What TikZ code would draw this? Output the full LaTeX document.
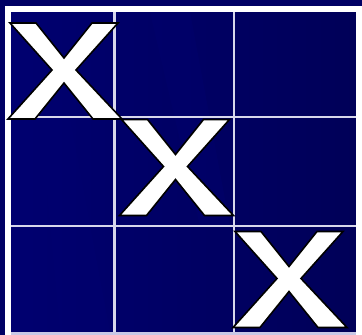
\documentclass[tikz,border=0pt]{standalone}
\begin{document}
\begin{tikzpicture}[x=1pt,y=-1pt,
  frameline/.style={draw=white,line width=6pt},
  gridline/.style={draw={rgb,255:red,215;green,215;blue,235},line width=2.5pt},
  xshape/.style={fill=white,draw=black,line width=1.6pt,line join=miter}]
\definecolor{navyA}{RGB}{0,0,112}
\definecolor{navyB}{RGB}{0,0,88}
\definecolor{navyC}{RGB}{0,0,100}
\useasboundingbox (0,0) rectangle (362,335);
\fill[navyC] (0,0) rectangle (362,335);
\shade[left color=navyA,right color=navyB] (11,12) rectangle (356,332);
\fill[navyA,opacity=0.35] (40,118) -- (70,118) -- (110,332) -- (60,332) -- cycle;
\fill[navyA,opacity=0.35] (150,12) -- (190,12) -- (230,226) -- (200,226) -- cycle;
% grid lines
\draw[gridline] (114.5,12) -- (114.5,332);
\draw[gridline] (234,12) -- (234,332);
\draw[gridline] (11,117) -- (356,117);
\draw[gridline] (11,226) -- (356,226);
% outer frame
\draw[frameline] (8,9) rectangle (359,335);
\draw[draw={rgb,255:red,200;green,200;blue,230},line width=3pt] (11,333.5) -- (356,333.5);
% X marks
\foreach \cx/\cy in {64/71, 175.5/167.5, 289/279.5}{
  \draw[xshape,shift={(\cx,\cy)}]
    (-54,-48) -- (-28,-48) -- (0,-13) -- (28,-48) -- (54,-48) -- (12,-1)
    -- (58,48) -- (29,48) -- (0,12) -- (-29,48) -- (-56,48) -- (-12,-1) -- cycle;
}
\end{tikzpicture}
\end{document}
